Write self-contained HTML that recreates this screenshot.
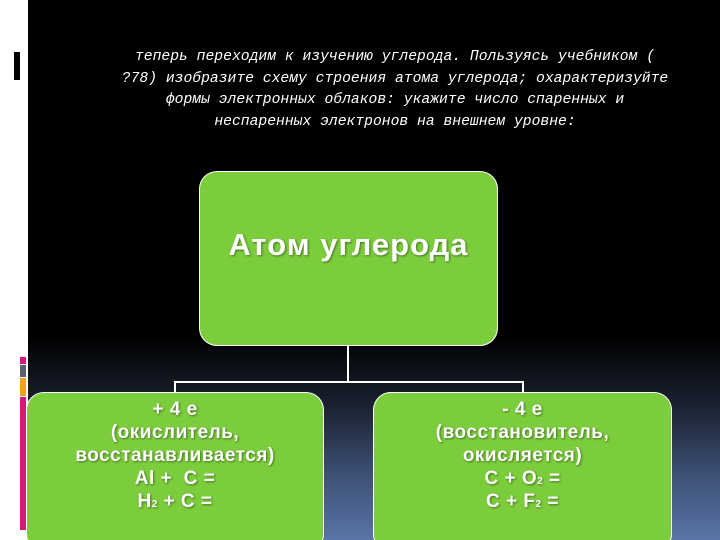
<!DOCTYPE html>
<html style="overflow:hidden;width:720px;height:540px"><head><meta charset="utf-8"><style>
body{margin:0;width:720px;height:540px;overflow:hidden;background:#fff;position:relative;font-family:"Liberation Sans","DejaVu Sans",sans-serif}
.bg{position:absolute;left:28px;top:0;width:692px;height:540px;background:linear-gradient(to bottom,#000 0%,#000 62%,#1a2130 75%,#3d5075 88%,#5a74a6 100%)}
.t{position:absolute;left:105px;width:580px;top:47px;color:#fff;font-family:"Liberation Mono",monospace;font-style:italic;font-size:14.7px;line-height:21.5px;text-align:center}
.box{position:absolute;background:#7ccd3c;border:1.5px solid #fff;border-radius:18px;box-sizing:border-box;color:#fff;font-weight:bold;text-align:center;text-shadow:1px 1px 2px rgba(0,0,0,.45)}
.l{position:absolute;background:#fff}
.bar{position:absolute;left:20px;width:6px}
sub{font-size:10px;vertical-align:baseline;line-height:0}
</style></head><body>
<div class="bg"></div>
<div style="position:absolute;left:14px;top:52px;width:6px;height:28px;background:#000"></div>
<div class="bar" style="top:357px;height:7px;background:#d4197a"></div>
<div class="bar" style="top:365px;height:12px;background:#5a6270"></div>
<div class="bar" style="top:378px;height:18px;background:#f2a11e"></div>
<div class="bar" style="top:397px;height:133px;background:#d4197a"></div>
<div class="t">теперь переходим к изучению углерода. Пользуясь учебником (<br>?78) изобразите схему строения атома углерода; охарактеризуйте<br>формы электронных облаков: укажите число спаренных и<br>неспаренных электронов на внешнем уровне:</div>
<div class="l" style="left:347px;top:345px;width:2px;height:38px"></div>
<div class="l" style="left:174px;top:381px;width:350px;height:2px"></div>
<div class="l" style="left:174px;top:381px;width:2px;height:12px"></div>
<div class="l" style="left:522px;top:381px;width:2px;height:12px"></div>
<div class="box" style="left:199px;top:171px;width:299px;height:175px;font-size:31px;letter-spacing:1px;padding-top:55px">Атом углерода</div>
<div class="box" style="left:26px;top:392px;width:298px;height:160px;font-size:19px;letter-spacing:0.5px;line-height:23px;padding-top:5px">+ 4 е<br>(окислитель,<br>восстанавливается)<br>Al + &nbsp;C =<br>H<sub>2</sub> + C =</div>
<div class="box" style="left:373px;top:392px;width:299px;height:160px;font-size:19px;letter-spacing:0.5px;line-height:23px;padding-top:5px">- 4 е<br>(восстановитель,<br>окисляется)<br>C + O<sub>2</sub> =<br>C + F<sub>2</sub> =</div>
</body></html>
